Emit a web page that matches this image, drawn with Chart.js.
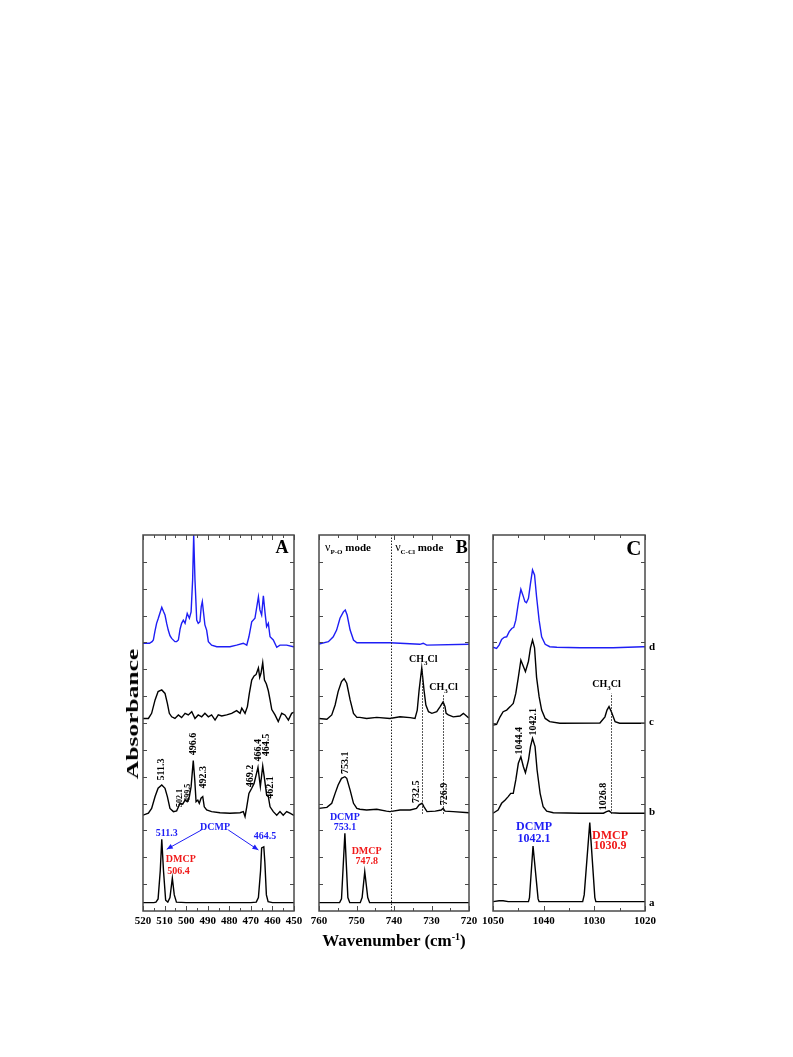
<!DOCTYPE html>
<html><head><meta charset="utf-8">
<script src="https://cdn.jsdelivr.net/npm/chart.js@4.4.0/dist/chart.umd.min.js"></script>
<style>
body{margin:0;background:#fff;width:793px;height:1057px;position:relative;overflow:hidden;font-family:'Liberation Serif','Times New Roman',serif;}
canvas{position:absolute;}
#ylab{position:absolute;left:133px;top:714px;transform:translate(-50%,-50%) rotate(-90deg) scaleX(1.5);font-weight:bold;font-size:17px;white-space:nowrap;}
#xlab{position:absolute;left:394px;top:941px;transform:translate(-50%,-50%);font-weight:bold;font-size:17px;white-space:nowrap;}
#xlab sup{font-size:10px;}
</style></head>
<body>
<canvas id="cA" width="191" height="418" style="left:123px;top:525px;width:191px;height:418px"></canvas>
<canvas id="cB" width="190" height="418" style="left:299px;top:525px;width:190px;height:418px"></canvas>
<canvas id="cC" width="202" height="418" style="left:473px;top:525px;width:202px;height:418px"></canvas>
<div id="ylab">Absorbance</div>
<div id="xlab">Wavenumber (cm<sup>-1</sup>)</div>
<script>
// ---------- data: [wavenumber, absorbance (stacked offset units)] ----------
const A_a = [[520,0.31],[515,0.31],[514,0.33],[513,0.45],[512,1.5],[511.3,2.67],[510.5,1.5],[509.5,0.4],[508.5,0.33],[507.5,0.5],[506.4,1.22],[505.5,0.6],[504.5,0.33],[500,0.31],[470,0.31],[467.5,0.33],[466.5,0.5],[465.5,1.5],[465,2.35],[464,2.39],[463.5,1.8],[462.8,0.6],[462,0.35],[460,0.31],[450,0.31]];
const A_b = [[520,3.57],[517.5,3.64],[516,3.82],[514.4,4.26],[513,4.57],[511.3,4.69],[509.8,4.57],[508.7,4.26],[507.5,3.82],[505.9,3.70],[504.4,3.73],[502.8,4.01],[501.6,3.98],[500.5,4.13],[499.5,4.07],[498.5,4.26],[497.7,4.63],[496.7,5.60],[496,4.88],[495.4,4.07],[494.6,4.13],[493.9,4.01],[493.1,4.20],[492.3,4.26],[491.6,3.88],[490.5,3.76],[488.2,3.70],[484.3,3.66],[479.7,3.64],[475,3.66],[473.5,3.70],[472.7,3.51],[471.9,3.88],[470.9,4.38],[469.6,4.57],[468.5,4.75],[466.7,5.35],[465.6,4.63],[464.5,5.40],[463.6,4.88],[462.7,4.32],[461.9,4.26],[461.1,3.88],[459.6,3.70],[458,3.57],[456.5,3.70],[455,3.57],[453.4,3.70],[451.9,3.64],[450.3,3.57],[450,3.57]];
const A_c = [[520,7.17],[517.5,7.17],[516,7.36],[514.4,7.86],[513,8.17],[511.3,8.23],[509.8,8.10],[508.7,7.73],[507.8,7.36],[506.7,7.23],[505.2,7.17],[503.6,7.30],[502.1,7.20],[500.5,7.36],[499,7.30],[497.4,7.42],[495.9,7.17],[494.4,7.30],[492.8,7.23],[491.3,7.36],[489.7,7.23],[488.2,7.30],[486.6,7.11],[485.1,7.30],[483.5,7.26],[481.2,7.30],[478.9,7.36],[476.6,7.46],[475,7.36],[474.2,7.55],[472.7,7.36],[471.6,7.61],[470.7,8.10],[469.6,8.6],[468.5,8.75],[467.6,8.8],[466.5,9.05],[465.9,8.7],[465.3,8.85],[464.5,9.25],[463.7,8.6],[462.8,8.45],[461.9,8.2],[461.1,7.86],[460.3,7.5],[458.8,7.30],[457.3,7.05],[455.7,7.36],[454.2,7.30],[452.6,7.11],[451.1,7.36],[450,7.40]];
const A_d = [[520,9.97],[517,9.97],[515.8,10.03],[515.2,10.09],[514.5,10.4],[513.7,10.71],[512.9,10.9],[511.3,11.31],[510.5,11.15],[509.8,11.02],[509,10.7],[508.3,10.46],[507.5,10.25],[506.7,10.15],[505.2,10.03],[504.4,10.03],[503.6,10.09],[502.8,10.5],[502.1,10.71],[501.3,10.83],[500.5,10.71],[499.5,11.08],[498.5,10.9],[497.7,11.14],[497,12.32],[496.5,14.0],[495.9,12.32],[495.1,10.83],[494.4,10.71],[493.6,10.77],[493,11.33],[492.5,11.52],[491.9,11.08],[491.3,10.65],[490.5,10.46],[489.7,10.03],[488.2,9.9],[485.8,9.84],[479.7,9.84],[476.6,9.9],[473.5,9.97],[471.9,9.9],[470.9,10.21],[469.6,10.77],[468.1,10.9],[466.5,11.70],[465.8,11.21],[465,11.02],[464.2,11.74],[463.4,11.08],[462.7,10.59],[461.9,10.71],[461.1,10.21],[459.6,10.09],[458,9.82],[456.5,9.9],[453.4,9.9],[450.3,9.84],[450,9.84]];

const B_a = [[760,0.31],[754.5,0.31],[754,0.45],[753.1,2.89],[752.3,0.5],[751.8,0.31],[749,0.31],[748.5,0.5],[747.8,1.46],[747,0.5],[746.5,0.31],[720,0.31]];
const B_b = [[760,3.82],[757.9,3.86],[756.6,4.01],[755.7,4.38],[754.9,4.69],[754,4.94],[753.1,5.00],[752.6,4.94],[751.7,4.50],[750.8,4.01],[749.9,3.82],[749.1,3.79],[747.3,3.76],[744.6,3.79],[742,3.72],[741.1,3.70],[738.4,3.76],[735.7,3.76],[734,3.82],[733.3,3.95],[732.5,4.01],[732,3.88],[731.2,3.70],[729,3.72],[727.4,3.76],[726.9,3.82],[726.4,3.72],[724.2,3.70],[720,3.66]];
const B_c = [[760,7.17],[757.9,7.14],[756.6,7.30],[755.7,7.67],[754.9,8.17],[754,8.54],[753.3,8.65],[752.6,8.48],[751.7,7.86],[750.8,7.36],[749.9,7.21],[749.1,7.21],[747.3,7.17],[744.6,7.21],[741.1,7.17],[738.4,7.23],[735.7,7.20],[734.4,7.17],[733.8,7.48],[733.3,8.23],[732.6,9.05],[732,8.23],[731.5,7.67],[730.8,7.42],[729.9,7.36],[728.6,7.42],[727.7,7.61],[726.9,7.79],[726.4,7.61],[726.1,7.36],[725.5,7.30],[724.2,7.23],[722.4,7.26],[721.5,7.36],[720.2,7.20],[720,7.20]];
const B_d = [[760,9.94],[757.5,10.03],[756.2,10.21],[755.3,10.46],[754.4,10.90],[753.5,11.14],[753,11.21],[752.5,11.02],[751.7,10.46],[750.8,10.09],[749.9,9.99],[749.1,9.99],[741.1,9.99],[738.4,9.97],[733.1,9.93],[732.2,9.97],[731.3,9.90],[720,9.93]];

const C_a = [[1050,0.35],[1048.8,0.38],[1048,0.38],[1047,0.35],[1043,0.35],[1042.8,0.5],[1042.1,2.42],[1041.1,0.45],[1040.9,0.35],[1032.3,0.35],[1032,0.6],[1030.9,3.29],[1029.9,0.5],[1029.7,0.35],[1020,0.35]];
const C_b = [[1050,3.64],[1049,3.76],[1048.3,4.01],[1047.6,4.13],[1047,4.26],[1046.5,4.38],[1046,4.38],[1045.5,4.88],[1045,5.50],[1044.5,5.74],[1044,5.37],[1043.6,5.15],[1043,5.62],[1042.6,6.12],[1042.2,6.43],[1041.7,6.12],[1041.3,5.25],[1040.7,4.38],[1040.1,3.88],[1039.4,3.72],[1038.1,3.66],[1032.8,3.64],[1028.2,3.64],[1027.6,3.70],[1027.1,3.73],[1026.6,3.66],[1025,3.64],[1020,3.64]];
const C_c = [[1050,6.92],[1049.3,6.95],[1048.6,7.23],[1048,7.42],[1047.3,7.48],[1046.6,7.61],[1046,7.73],[1045.5,8.10],[1045,8.7],[1044.5,9.34],[1044,9.1],[1043.6,8.91],[1043,9.3],[1042.6,9.8],[1042.2,10.09],[1041.8,9.8],[1041.4,8.7],[1040.9,7.98],[1040.4,7.48],[1039.7,7.17],[1038.8,7.05],[1036.8,6.99],[1028.9,7.0],[1027.9,7.23],[1027.5,7.48],[1027.1,7.61],[1026.6,7.4],[1025.9,7.05],[1025,6.99],[1020,6.99]];
const C_d = [[1050,9.82],[1049.3,9.78],[1048.8,9.90],[1048.3,10.11],[1047.8,10.19],[1047.3,10.21],[1046.8,10.40],[1046.3,10.52],[1045.9,10.56],[1045.5,10.83],[1045,11.46],[1044.5,11.98],[1044.1,11.76],[1043.7,11.52],[1043.4,11.48],[1043,11.64],[1042.6,12.20],[1042.2,12.70],[1041.8,12.51],[1041.4,11.70],[1040.9,10.83],[1040.4,10.21],[1039.7,9.93],[1038.8,9.84],[1037.4,9.82],[1032.8,9.80],[1026.3,9.80],[1020.4,9.84],[1020,9.84]];

const ticksA = [520,510,500,490,480,470,460,450];
const ticksB = [760,750,740,730,720];
const ticksC = [1050,1040,1030,1020];
const yRange = [0,14];
const traceNames = ['a','b','c','d'];
const traceLevels = [0.30,3.69,7.04,9.83];

// ---------- style ----------
const FONT = "'Liberation Serif','Times New Roman',serif";
const BLUE = '#1e1ef5', RED = '#f01a1a', BLACK = '#000';
const fnt = (sz, b=true) => (b?'bold ':'') + sz + 'px ' + FONT;

function ds(arr, color){
  return {data: arr.map(p=>({x:p[0], y:p[1]})), borderColor: color, borderWidth: 1.4,
          pointRadius: 0, tension: 0, fill: false};
}

function makeDeco(cfg){
  return {
    id: 'deco' + cfg.name,
    afterDatasetsDraw(chart){
      const {ctx, chartArea: ca} = chart;
      const x = chart.scales.x, y = chart.scales.y;
      const X = v => x.getPixelForValue(v), Y = v => y.getPixelForValue(v);
      const line = (x1,y1,x2,y2) => {ctx.beginPath(); ctx.moveTo(x1,y1); ctx.lineTo(x2,y2); ctx.stroke();};
      ctx.save();
      // dotted guide lines
      ctx.strokeStyle = '#222'; ctx.lineWidth = 1; ctx.setLineDash([1.5,1.5]);
      (cfg.dotted||[]).forEach(d => { const px = Math.round(X(d[0]))+0.5; line(px, Y(d[1]), px, Y(d[2])); });
      ctx.setLineDash([]);
      // frame
      ctx.strokeStyle = '#4a4a4a'; ctx.lineWidth = 1.5;
      ctx.strokeRect(ca.left, ca.top, ca.width, ca.height);
      // inward ticks
      ctx.lineWidth = 1;
      const lo = Math.min(x.min, x.max), hi = Math.max(x.min, x.max);
      for (let v = lo; v <= hi + 1e-6; v += cfg.minor) {
        const px = Math.round(X(v)) + 0.5;
        const len = Math.abs(v % cfg.major) < 1e-6 ? 5 : 3;
        line(px, ca.bottom, px, ca.bottom - len);
        line(px, ca.top, px, ca.top + len);
      }
      for (let k = y.min + 1; k < y.max; k++) {
        const py = Math.round(Y(k)) + 0.5;
        line(ca.left, py, ca.left + 4, py);
        line(ca.right, py, ca.right - 4, py);
      }
      // arrows
      (cfg.arrows||[]).forEach(a => {
        const x1 = X(a[0]), y1 = Y(a[1]), x2 = X(a[2]), y2 = Y(a[3]);
        ctx.strokeStyle = a[4]; ctx.fillStyle = a[4]; ctx.lineWidth = 1;
        line(x1,y1,x2,y2);
        const ang = Math.atan2(y2-y1, x2-x1), L = 6, W = 2.6;
        ctx.beginPath(); ctx.moveTo(x2,y2);
        ctx.lineTo(x2 - L*Math.cos(ang) + W*Math.sin(ang), y2 - L*Math.sin(ang) - W*Math.cos(ang));
        ctx.lineTo(x2 - L*Math.cos(ang) - W*Math.sin(ang), y2 - L*Math.sin(ang) + W*Math.cos(ang));
        ctx.closePath(); ctx.fill();
      });
      // plain texts
      ctx.textAlign = 'center'; ctx.textBaseline = 'middle';
      (cfg.texts||[]).forEach(t => {
        ctx.font = fnt(t.sz); ctx.fillStyle = t.c || BLACK;
        const px = X(t.x), py = Y(t.y);
        if (t.rot) { ctx.save(); ctx.translate(px, py); ctx.rotate(-Math.PI/2); ctx.fillText(t.t, 0, 0); ctx.restore(); }
        else ctx.fillText(t.t, px, py);
      });
      // rich texts (subscripts): segs [text, size, bold, dy]
      ctx.textBaseline = 'alphabetic'; ctx.textAlign = 'left';
      (cfg.rich||[]).forEach(r => {
        let w = 0;
        r.segs.forEach(s => { ctx.font = fnt(s[1], s[2]); w += ctx.measureText(s[0]).width; });
        let cx = r.align === 'left' ? X(r.x) : X(r.x) - w/2;
        const base = Y(r.y) + r.segs[0][1]*0.35;
        ctx.fillStyle = r.c || BLACK;
        r.segs.forEach(s => { ctx.font = fnt(s[1], s[2]); ctx.fillText(s[0], cx, base + (s[3]||0)); cx += ctx.measureText(s[0]).width; });
      });
      // trace names at right
      if (cfg.traceNames) {
        ctx.font = fnt(11); ctx.fillStyle = BLACK; ctx.textBaseline = 'middle';
        traceNames.forEach((n,i) => ctx.fillText(n, ca.right + 4, Y(traceLevels[i])));
      }
      ctx.restore();
    }
  };
}

function makeChart(id, series, ticks, padR, cfg){
  const colors = [BLACK, BLACK, BLACK, BLUE];
  return new Chart(document.getElementById(id), {
    type: 'line',
    data: {datasets: series.map((s,i) => ds(s, colors[i]))},
    options: {
      responsive: false, animation: false, devicePixelRatio: 1,
      layout: {padding: {left: 20, right: padR, top: 10, bottom: 0}},
      plugins: {legend: {display: false}, tooltip: {enabled: false}},
      scales: {
        x: {type: 'linear', reverse: true, min: Math.min(...ticks), max: Math.max(...ticks),
            grid: {display: false, drawTicks: false}, border: {display: false},
            afterFit: s => { s.height = 32; },
            ticks: {stepSize: 10, autoSkip: false, maxRotation: 0, padding: 4, color: BLACK,
                    font: {family: FONT, size: 11, weight: 'bold'},
                    callback: v => ticks.includes(v) ? String(v) : ''}},
        y: {display: false, min: yRange[0], max: yRange[1]}
      }
    },
    plugins: [makeDeco(cfg)]
  });
}

makeChart('cA', [A_a, A_b, A_c, A_d], ticksA, 20, {
  name: 'A', minor: 5, major: 10,
  arrows: [[492.8,3.02,509.0,2.30,BLUE],[480.5,3.02,466.5,2.27,BLUE]],
  texts: [
    {t:'A', x:455.6, y:13.51, sz:18},
    {t:'511.3', x:511.3, y:5.27, sz:10, rot:true},
    {t:'502.1', x:502.7, y:4.21, sz:8, rot:true},
    {t:'499.5', x:499.3, y:4.40, sz:8, rot:true},
    {t:'496.6', x:496.7, y:6.22, sz:10, rot:true},
    {t:'492.3', x:492.0, y:4.98, sz:10, rot:true},
    {t:'469.2', x:470.4, y:5.03, sz:10, rot:true},
    {t:'466.4', x:466.5, y:5.99, sz:10, rot:true},
    {t:'464.5', x:463.0, y:6.18, sz:10, rot:true},
    {t:'462.1', x:461.1, y:4.60, sz:10, rot:true},
    {t:'DCMP', x:486.6, y:3.13, sz:10, c:BLUE},
    {t:'511.3', x:509.0, y:2.89, sz:10, c:BLUE},
    {t:'464.5', x:463.4, y:2.77, sz:10, c:BLUE},
    {t:'DMCP', x:502.5, y:1.92, sz:10, c:RED},
    {t:'506.4', x:503.6, y:1.46, sz:10, c:RED}
  ]
});

makeChart('cB', [B_a, B_b, B_c, B_d], ticksB, 20, {
  name: 'B', minor: 5, major: 10,
  dotted: [[740.9,0,14],[732.5,3.62,9.0],[726.9,3.62,8.05]],
  texts: [
    {t:'B', x:721.9, y:13.51, sz:18},
    {t:'753.1', x:752.9, y:5.52, sz:10, rot:true},
    {t:'732.5', x:734.1, y:4.44, sz:10, rot:true},
    {t:'726.9', x:726.6, y:4.36, sz:10, rot:true},
    {t:'DCMP', x:753.1, y:3.49, sz:10, c:BLUE},
    {t:'753.1', x:753.1, y:3.12, sz:10, c:BLUE},
    {t:'DMCP', x:747.3, y:2.21, sz:10, c:RED},
    {t:'747.8', x:747.3, y:1.84, sz:10, c:RED}
  ],
  rich: [
    {segs:[['\u03bd',12,false],['P-O',7,true,3],[' mode',11,true]], x:758.4, y:13.55, align:'left'},
    {segs:[['\u03bd',12,false],['C-Cl',7,true,3],[' mode',11,true]], x:739.7, y:13.55, align:'left'},
    {segs:[['CH',10,true],['3',7,true,3],['Cl',10,true]], x:732.2, y:9.41},
    {segs:[['CH',10,true],['3',7,true,3],['Cl',10,true]], x:726.8, y:8.35}
  ]
});

makeChart('cC', [C_a, C_b, C_c, C_d], ticksC, 30, {
  name: 'C', minor: 5, major: 10, traceNames: true,
  dotted: [[1026.8,3.62,8.1]],
  texts: [
    {t:'C', x:1022.2, y:13.44, sz:21},
    {t:'1044.4', x:1044.8, y:6.34, sz:10, rot:true},
    {t:'1042.1', x:1042.05, y:7.05, sz:10, rot:true},
    {t:'1026.8', x:1028.2, y:4.26, sz:10, rot:true},
    {t:'DCMP', x:1041.9, y:3.12, sz:12, c:BLUE},
    {t:'1042.1', x:1041.9, y:2.67, sz:12, c:BLUE},
    {t:'DMCP', x:1026.9, y:2.79, sz:12, c:RED},
    {t:'1030.9', x:1026.9, y:2.42, sz:12, c:RED}
  ],
  rich: [
    {segs:[['CH',10,true],['3',7,true,3],['Cl',10,true]], x:1027.6, y:8.48}
  ]
});
</script>
</body></html>
